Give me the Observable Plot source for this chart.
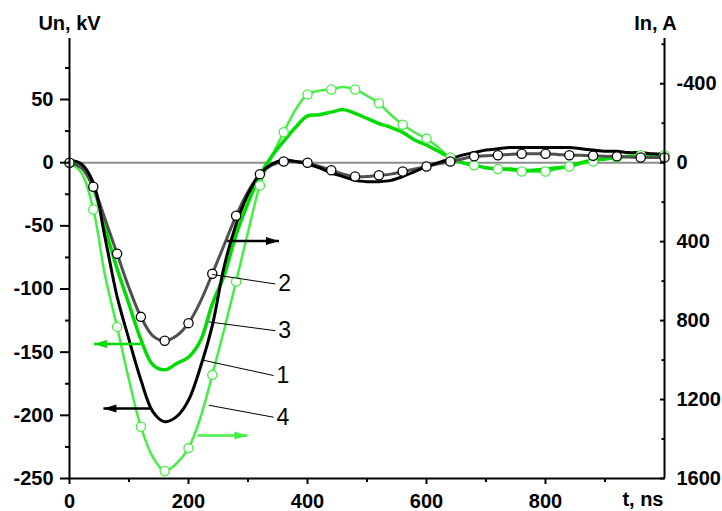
<!DOCTYPE html>
<html><head><meta charset="utf-8">
<script src="https://cdn.jsdelivr.net/npm/d3@7"></script>
<script src="https://cdn.jsdelivr.net/npm/@observablehq/plot@0.6"></script>
<style>body{margin:0;background:#fff}</style>
</head><body><div id="chart"></div>
<script>
// time, ns
const time = [0,20,40,60,80,100,120,140,160,180,200,220,240,260,280,300,320,340,360,380,400,420,440,460,480,500,520,540,560,580,600,620,640,660,680,700,720,740,760,780,800,820,840,860,880,900,920,940,960,980,1000];
// curve 1: voltage, kV (black)
const u1 = [2,-1,-16,-60,-106,-140,-172,-197,-205,-201,-188,-162,-129,-82,-49,-25,-9,-1,2,1,-1,-4,-8,-11,-14,-15,-15,-14,-11,-7,-3,0,3,6,8,10,11,12,12,12,12,12,12,11,10,9,9,8,8,7,7];
// curve 3: voltage, kV (green)
const u3 = [2,-2,-20,-52,-84,-112,-140,-160,-164,-159,-154,-141,-112,-89,-57,-32,-10,5,17,28,37,38,40,42,39,35,31,28,24,18,14,9,4,0,-2,-4,-5,-5,-6,-6,-5,-4,-3,0,2,3,4,5,5,5,5];
// curve 2: current, A (grey, circles)
const i2 = [0,26,122,288,461,634,781,877,902,877,813,704,563,416,269,147,58,13,-6,-6,0,19,38,58,70,70,64,58,45,32,19,6,-6,-19,-32,-35,-38,-42,-45,-45,-45,-42,-38,-38,-35,-32,-32,-29,-26,-26,-26];
// curve 4: current, A (light green, circles)
const i4 = [0,51,237,576,832,1101,1338,1491,1562,1523,1446,1293,1075,845,602,352,115,-32,-154,-269,-346,-365,-371,-384,-371,-339,-301,-243,-192,-154,-122,-77,-26,0,13,26,32,38,45,45,45,32,19,6,-6,-19,-26,-32,-38,-38,-38];

const K = 6.4; // A per kV between the two axes
const uTicks = [-250,-200,-150,-100,-50,0,50];
const uMinor = [-225,-175,-125,-75,-25,25,75];
const iTicks = [-400,0,400,800,1200,1600];
const iMinor = [-600,-200,200,600,1000,1400];
const tTicks = [0,200,400,600,800];
const tMinor = [100,300,500,700,900];

// curve labels with leader lines
const annLabel = ["2","3","1","4"];
const annT1 = [240,234,226,234];
const annU1 = [-88.5,-126,-156.5,-192];
const annT2 = [346,346,343,343];
const annU2 = [-96,-133,-168.5,-201.5];

// direction arrows (which axis each curve belongs to)
const arrT1 = [265,122,136,215];
const arrT2 = [352,41,57,299];
const arrU = [-62,-143.5,-194.5,-216];

const C_BLACK = "#000000", C_GREY = "#505050", C_GREEN = "#00dc00", C_LGREEN = "#44ee44";
const arrColor = [C_BLACK, C_GREEN, C_BLACK, C_LGREEN];

const rows = time.map((t,i) => ({t, u1: u1[i], u3: u3[i], u2: -i2[i]/K, u4: -i4[i]/K}));
const circ = rows.filter(d => d.t % 40 === 0);
const ann = annLabel.map((s,i) => ({s, t1: annT1[i], u1: annU1[i], t2: annT2[i], u2: annU2[i]}));
const arr = arrT1.map((t1,i) => ({t1, t2: arrT2[i], u: arrU[i], c: arrColor[i], rot: arrT2[i] > t1 ? 0 : 180}));

const head = {draw(ctx){ ctx.moveTo(0,0); ctx.lineTo(-13,-4); ctx.lineTo(-13,4); ctx.closePath(); }};
const bold = {fontSize: 20, fontWeight: "bold"};
const fmt = d => String(d);

const chart = Plot.plot({
  width: 722, height: 511,
  marginLeft: 69, marginRight: 58, marginTop: 38, marginBottom: 33,
  style: {fontFamily: "'Liberation Sans', Arial, sans-serif", background: "#fff", color: "#000"},
  x: {domain: [0, 1000], axis: null},
  y: {domain: [-250, 98.3], axis: null},
  marks: [
    Plot.ruleY([0], {stroke: "#8c8c8c", strokeWidth: 2}),
    Plot.line(rows, {x: "t", y: "u4", stroke: C_LGREEN, strokeWidth: 2.5, curve: "catmull-rom"}),
    Plot.line(rows, {x: "t", y: "u3", stroke: C_GREEN, strokeWidth: 3.5, curve: "catmull-rom"}),
    Plot.line(rows, {x: "t", y: "u2", stroke: C_GREY, strokeWidth: 3, curve: "catmull-rom"}),
    Plot.line(rows, {x: "t", y: "u1", stroke: C_BLACK, strokeWidth: 3, curve: "catmull-rom"}),
    Plot.dot(circ, {x: "t", y: "u4", r: 4.6, fill: "#fff", stroke: C_LGREEN, strokeWidth: 1.3}),
    Plot.dot(circ, {x: "t", y: "u2", r: 4.6, fill: "#fff", stroke: "#000", strokeWidth: 1.3}),
    Plot.link(ann, {x1: "t1", y1: "u1", x2: "t2", y2: "u2", stroke: "#000", strokeWidth: 1}),
    Plot.text(ann, {x: "t2", y: "u2", text: "s", dx: 3, textAnchor: "start", fontSize: 23}),
    Plot.link(arr, {x1: "t1", x2: "t2", y1: "u", y2: "u", stroke: "c", strokeWidth: 2.5}),
    Plot.dot(arr, {x: "t2", y: "u", symbol: head, r: 5, fill: "c", stroke: "none", rotate: "rot"}),
    Plot.ruleX([0], {strokeWidth: 2}),
    Plot.ruleX([1000], {strokeWidth: 2}),
    Plot.ruleY([-250], {strokeWidth: 2}),
    Plot.axisY(uTicks, {anchor: "left", tickSize: 9, tickPadding: 7, strokeWidth: 2, tickFormat: fmt, ...bold}),
    Plot.axisY(uMinor, {anchor: "left", tickSize: 4, strokeWidth: 2, tickFormat: () => ""}),
    Plot.axisY(iTicks.map(a => -a/K), {anchor: "right", tickSize: 5, dx: -5, strokeWidth: 2, tickFormat: () => ""}),
    Plot.axisY(iMinor.map(a => -a/K), {anchor: "right", tickSize: 3.5, dx: -3.5, strokeWidth: 2, tickFormat: () => ""}),
    Plot.axisY(iTicks.map(a => -a/K), {anchor: "right", tickSize: 0, tickPadding: 12, tickFormat: v => String(Math.round(-v*K)), ...bold}),
    Plot.axisX(tTicks, {anchor: "bottom", tickSize: 6, tickPadding: 9, strokeWidth: 2, tickFormat: fmt, ...bold}),
    Plot.axisX(tMinor, {anchor: "bottom", tickSize: 4, strokeWidth: 2, tickFormat: () => ""}),
    Plot.text(["Un, kV"], {frameAnchor: "top-left", textAnchor: "middle", lineAnchor: "bottom", dy: -9, ...bold}),
    Plot.text(["In, A"], {frameAnchor: "top-right", textAnchor: "middle", lineAnchor: "bottom", dx: -9, dy: -9, ...bold}),
    Plot.text(["t, ns"], {frameAnchor: "bottom-right", textAnchor: "end", lineAnchor: "bottom", dx: -1, dy: 27, ...bold})
  ]
});
document.getElementById("chart").appendChild(chart);
</script>
</body></html>
